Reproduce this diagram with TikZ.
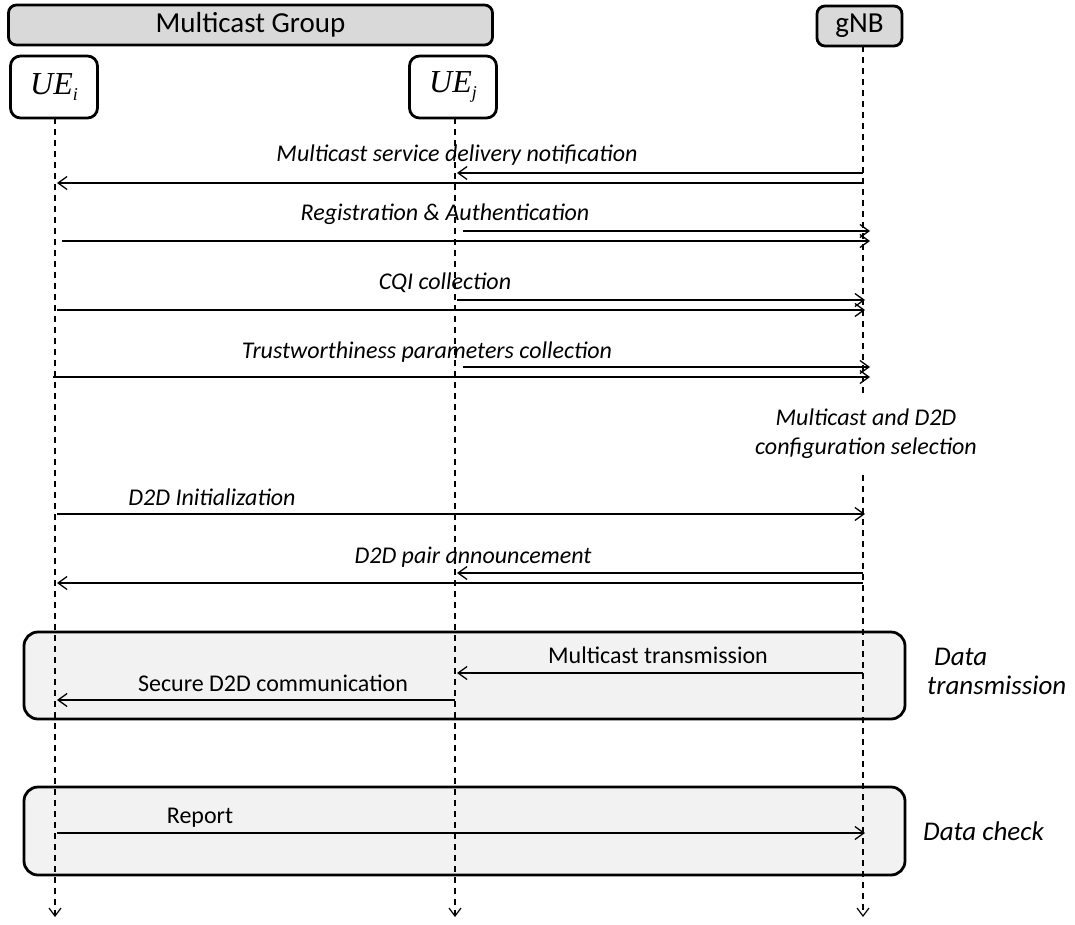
\documentclass[tikz,border=0pt]{standalone}
\usepackage{fontspec}
\setmainfont{Carlito}
\newfontfamily\uefont{Liberation Serif}
\usetikzlibrary{arrows.meta}
\definecolor{hdrgray}{HTML}{D9D9D9}
\definecolor{phasegray}{HTML}{F2F2F2}
\newcommand{\uename}[1]{{\uefont\itshape UE}\raisebox{-6pt}{\fontsize{18}{20}\uefont\itshape #1}}
\begin{document}
\begin{tikzpicture}[x=1pt,y=-1pt,
  hdr/.style={draw,line width=2.8pt,rounded corners=8pt,fill=hdrgray,
    font=\fontsize{29}{34}\selectfont,inner sep=0pt},
  uebox/.style={draw,line width=2.8pt,rounded corners=10pt,fill=white,
    minimum width=87pt,minimum height=62pt,inner sep=0pt,
    font=\fontsize{32}{36}\selectfont},
  phase/.style={draw,line width=2.8pt,rounded corners=14pt,fill=phasegray,
    minimum width=881pt,inner sep=0pt},
  life/.style={line width=1.3pt,dash pattern=on 6pt off 5pt,
    -{Straight Barb[length=8pt,width=12pt,line width=1.2pt]}},
  msg/.style={line width=1.3pt,
    -{Straight Barb[length=9pt,width=13pt,line width=1.3pt]}},
  msglabel/.style={font=\fontsize{24}{29}\selectfont\itshape,inner sep=0pt},
  plainlabel/.style={font=\fontsize{24}{29}\selectfont,inner sep=0pt},
  sidelabel/.style={font=\fontsize{27}{29}\selectfont\itshape,inner sep=0pt,
    anchor=west,align=left},
]
\useasboundingbox (0,0) rectangle (1075,924);

% phase frames (behind the lifelines)
\node[phase,minimum height=87pt] (dtbox) at (464.5,675.5) {};
\node[phase,minimum height=88pt] (dcbox) at (464.5,831) {};

% participants
\node[hdr,minimum width=484pt,minimum height=40pt] (group) at (250.5,25) {Multicast Group};
\node[hdr,minimum width=85pt,minimum height=40pt] (gnb) at (859.5,26) {gNB};
\node[uebox] (uei) at (54,87) {\uename{i}};
\node[uebox] (uej) at (453,87) {\uename{j}};

% lifeline anchors
\coordinate (ui) at (55,118);
\coordinate (uj) at (455,118);
\coordinate (gn) at (863,46);
\coordinate (uiend) at (55,917);
\coordinate (ujend) at (455,917);
\coordinate (gnend) at (863,917);

\draw[life] (ui) -- (uiend);
\draw[life] (uj) -- (ujend);
\draw[life] (gn) -- (gnend);

% Multicast service delivery notification
\node[msglabel] (l1) at (457,155) {Multicast service delivery notification};
\draw[msg] (gn |- 0,173) -- ([xshift=2pt]uj |- 0,173);
\draw[msg] (gn |- 0,183) -- ([xshift=2pt]ui |- 0,183);

% Registration & Authentication
\node[msglabel] (l2) at (445,214) {Registration \& Authentication};
\draw[msg] ([xshift=8pt]uj |- 0,231) -- ([xshift=7pt]gn |- 0,231);
\draw[msg] ([xshift=7pt]ui |- 0,241) -- ([xshift=7pt]gn |- 0,241);

% CQI collection
\node[msglabel] (l3) at (445,283) {CQI collection};
\draw[msg] ([xshift=2pt]uj |- 0,300) -- ([xshift=2pt]gn |- 0,300);
\draw[msg] ([xshift=2pt]ui |- 0,310) -- ([xshift=2pt]gn |- 0,310);

% Trustworthiness parameters collection
\node[msglabel] (l4) at (427,352) {Trustworthiness parameters collection};
\draw[msg] ([xshift=8pt]uj |- 0,367) -- ([xshift=7pt]gn |- 0,367);
\draw[msg] ([xshift=-2pt]ui |- 0,377) -- ([xshift=7pt]gn |- 0,377);

% configuration step at the gNB
\node[msglabel,fill=white,align=center,inner ysep=12pt,inner xsep=4pt,
  font=\fontsize{24}{29}\selectfont\itshape] (conf) at (866,434)
  {Multicast and D2D\\configuration selection};

% D2D Initialization
\node[msglabel] (l5) at (212,497) {D2D Initialization};
\draw[msg] ([xshift=2pt]ui |- 0,514) -- ([xshift=2pt]gn |- 0,514);

% D2D pair announcement
\node[msglabel] (l6) at (473,557) {D2D pair announcement};
\draw[msg] (gn |- 0,573) -- ([xshift=2pt]uj |- 0,573);
\draw[msg] (gn |- 0,583) -- ([xshift=2pt]ui |- 0,583);

% Data transmission phase
\node[plainlabel] (l7) at (658,655) {Multicast transmission};
\draw[msg] (gn |- 0,673) -- ([xshift=2pt]uj |- 0,673);
\node[plainlabel] (l8) at (273,683) {Secure D2D communication};
\draw[msg] (uj |- 0,700) -- ([xshift=2pt]ui |- 0,700);
\node[sidelabel] (dtlabel) at (927,671) {\hspace{7pt}Data\\transmission};

% Data check phase
\node[plainlabel] (l9) at (200,818) {Report};
\draw[msg] ([xshift=2pt]ui |- 0,833) -- ([xshift=2pt]gn |- 0,833);
\node[sidelabel] (dclabel) at (923,831) {Data check};
\end{tikzpicture}
\end{document}
